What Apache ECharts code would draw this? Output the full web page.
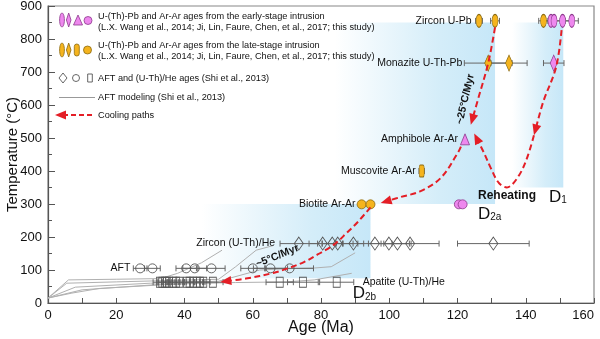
<!DOCTYPE html>
<html>
<head>
<meta charset="utf-8">
<script src="https://cdn.jsdelivr.net/npm/echarts@6/dist/echarts.min.js"></script>
<style>
html,body{margin:0;padding:0;background:#fff;}
#chart{width:600px;height:339px;}
</style>
</head>
<body>
<div id="chart"></div>
<script>
// ---------------- data ----------------
// Shaded thermal-event windows: [ageFrom, ageTo, tempFrom, tempTo]
const regionD2a = [84, 131, 300, 850];
const regionD1  = [136, 151, 350, 850];
const regionD2b = [45, 94.5, 75, 300];

// Zircon U-Pb (closure ~855 °C)
const zirconTemp = 855;
const zirconLateAges = [126.3, 131.0, 145.2];
const zirconLateErr  = [1.0, 1.3, 1.4];
const zirconEarlyAges = [147.4, 148.3, 150.8, 153.5];
const zirconEarlyErr  = [1.6, 1.8, 2.0, 1.9];

// Monazite U-Th-Pb
const monaziteTemp = 727;
const monaziteLateAges = [129.0, 135.1];
const monaziteLateErr  = [7.0, 5.3];
const monaziteEarlyAges = [148.2];
const monaziteEarlyErr  = [3.0];

// Amphibole, muscovite and biotite Ar-Ar
const amphiboleTemp = 496;
const amphiboleEarlyAges = [122.2];
const muscoviteTemp = 400;
const muscoviteLateAges = [109.5];
const muscoviteLateErr  = [0.8];
const biotiteTemp = 299;
const biotiteLateAges = [91.9, 94.5];
const biotiteLateErr  = [0.9, 0.9];
const biotiteEarlyAges = [120.4, 121.5];
const biotiteEarlyErr  = [0.8, 0.8];

// Low-temperature thermochronology (Shi et al., 2013)
const zheTemp = 180;
const zheAges = [73.5, 80.5, 83.3, 84.9, 89.5, 95.8, 99.9, 102.4, 106.1, 130.5];
const zheErr  = [5.5, 4.0, 3.0, 4.5, 3.0, 5.0, 6.0, 4.0, 8.5, 10.5];
const aftTemp = 105;
const aftAges = [27.0, 30.6, 40.5, 43.0, 47.9, 60.0, 65.2, 70.8];
const aftErr  = [2.0, 2.3, 3.0, 3.5, 4.0, 3.5, 5.0, 7.0];
const aheTemp = 63;
const aheAges = [32.8, 33.5, 34.3, 34.8, 35.5, 36.7, 37.5, 38.5, 40.7, 41.5, 42.5, 43.6, 44.5, 45.5, 48.3, 67.9, 74.7, 84.6];
const aheErr  = [2.0, 1.5, 2.0, 1.5, 2.0, 1.5, 2.0, 1.5, 2.0, 1.5, 2.0, 2.0, 1.5, 2.0, 3.0, 4.0, 4.5, 5.0];

// AFT inverse-modelling time-temperature paths [age, temp]
const model1 = [[0,15],[6,70],[20,72],[33,74],[38,90],[45,122],[51,160]];
const model2 = [[0,15],[5.5,60],[20,64],[35,68],[50,72],[55,110],[58,135],[61,160],[66,174]];
const model3 = [[0,15],[8,48],[30,60],[50,66],[62,100],[70,104],[78,106],[83,110],[90,152]];
const model4 = [[0,15],[10,40],[35,58],[55,62],[70,64],[78,70],[89,90]];
const model5 = [[0,15],[7,30],[15,44],[35,56],[50,62]];

// Cooling paths [age, temp]
const pathEarly    = [[131,835],[129,727],[126.2,624],[123.9,540]];
const pathD1       = [[150.5,827],[148.9,715],[145.1,609],[142.4,508]];
const pathReheat   = [[142.4,508],[140.5,443],[138.1,388],[134.9,351],[132.2,363],[129.8,408],[127.8,454],[124.9,514]];
const pathToBiot   = [[121,474],[120.1,455],[115.1,379],[109.2,339],[103.3,321],[97.5,303]];
const pathToAFT    = [[94.5,290],[91,248],[87.5,212],[83.7,176],[79,147],[75,124],[70,104],[66,91],[58,74],[50.5,64]];

// ---------------- styles ----------------
const FONT = "'Liberation Sans', Arial, sans-serif";
const ORANGE = '#F5B41E', ORANGE_LINE = '#8a6a12';
const PINK = '#EE88EE', PINK_LINE = '#8c3a8c';
const RED = '#E41E26';
const ELLIPSE = 'path://M50,0 A50,50 0 1,1 50,100 A50,50 0 1,1 50,0 Z';

function rows(ages, temp, errs) {
  return ages.map((a, i) => [a, temp, errs ? errs[i] : 0]);
}

function renderRegion(params, api) {
  const p0 = api.coord([api.value(0), api.value(3)]);
  const p1 = api.coord([api.value(1), api.value(2)]);
  return {
    type: 'rect',
    shape: { x: p0[0], y: p0[1], width: p1[0] - p0[0], height: p1[1] - p0[1] },
    style: {
      fill: new echarts.graphic.LinearGradient(0, 0, 1, 0, [
        { offset: 0, color: 'rgba(205,234,248,0)' },
        { offset: 0.65, color: 'rgba(205,234,248,0.85)' },
        { offset: 1, color: '#c6e7f8' }
      ])
    }
  };
}

function renderErr(params, api) {
  const a = api.value(0), t = api.value(1), e = api.value(2);
  if (!e) return null;
  const p1 = api.coord([a - e, t]), p2 = api.coord([a + e, t]);
  const h = 3;
  const st = { stroke: '#666', lineWidth: 1 };
  return {
    type: 'group',
    children: [
      { type: 'line', shape: { x1: p1[0], y1: p1[1], x2: p2[0], y2: p2[1] }, style: st },
      { type: 'line', shape: { x1: p1[0], y1: p1[1] - h, x2: p1[0], y2: p1[1] + h }, style: st },
      { type: 'line', shape: { x1: p2[0], y1: p2[1] - h, x2: p2[0], y2: p2[1] + h }, style: st }
    ]
  };
}

const coolingPaths = [pathEarly, pathD1, pathReheat, pathToBiot, pathToAFT];
function renderPath(params, api) {
  const pts = coolingPaths[params.dataIndex].map(p => api.coord(p));
  const n = pts.length;
  const tip = pts[n - 1], prev = pts[n - 2];
  const dx = tip[0] - prev[0], dy = tip[1] - prev[1];
  const len = Math.sqrt(dx * dx + dy * dy);
  const ux = dx / len, uy = dy / len;
  const L = 11, W = 4.5;
  const base = [tip[0] - ux * L, tip[1] - uy * L];
  const linePts = pts.slice(0, n - 1).concat([[tip[0] - ux * L * 0.7, tip[1] - uy * L * 0.7]]);
  return {
    type: 'group',
    children: [
      { type: 'polyline', shape: { points: linePts, smooth: 0.35 },
        style: { stroke: RED, lineWidth: 2, lineDash: [6, 3.5], fill: null } },
      { type: 'polygon', shape: { points: [tip, [base[0] - uy * W, base[1] + ux * W], [base[0] + uy * W, base[1] - ux * W]] },
        style: { fill: RED } }
    ]
  };
}

function renderText(params, api) {
  const item = annotations[params.dataIndex];
  const p = api.coord([item.age, item.temp]);
  return {
    type: 'text',
    x: p[0] + (item.dx || 0), y: p[1] + (item.dy || 0),
    rotation: (item.rotate || 0) * Math.PI / 180,
    style: Object.assign({
      text: item.text, fill: '#111', font: (item.weight || 'normal') + ' ' + (item.size || 10.5) + 'px ' + FONT,
      align: item.align || 'right', verticalAlign: 'middle'
    }, item.rich ? { rich: item.rich } : {})
  };
}

const subRich = {
  d: { fontSize: 17, fontFamily: FONT, lineHeight: 20, verticalAlign: 'bottom', fill: '#111' },
  s: { fontSize: 10, fontFamily: FONT, lineHeight: 20, verticalAlign: 'bottom', padding: [9, 0, 0, 0], fill: '#111' }
};

const annotations = [
  { text: 'Zircon U-Pb', age: zirconLateAges[0] - zirconLateErr[0], temp: zirconTemp, dx: -4 },
  { text: 'Monazite U-Th-Pb', age: monaziteLateAges[0] - monaziteLateErr[0], temp: monaziteTemp, dx: -2 },
  { text: 'Amphibole Ar-Ar', age: amphiboleEarlyAges[0], temp: amphiboleTemp, dx: -7 },
  { text: 'Muscovite Ar-Ar', age: muscoviteLateAges[0], temp: muscoviteTemp, dx: -6 },
  { text: 'Biotite Ar-Ar', age: biotiteLateAges[0], temp: biotiteTemp, dx: -6 },
  { text: 'Zircon (U-Th)/He', age: zheAges[0] - zheErr[0], temp: zheTemp, dx: -5 },
  { text: 'AFT', age: aftAges[0] - aftErr[0], temp: aftTemp, dx: -3 },
  { text: 'Apatite (U-Th)/He', age: 92.2, temp: aheTemp, align: 'left' },
  { text: 'Reheating', age: 134.5, temp: 326, align: 'center', weight: 'bold', size: 12 },
  { text: '~25°C/Myr', age: 122.3, temp: 618, align: 'center', weight: 'bold', size: 10.5, rotate: 77 },
  { text: '~5°C/Myr', age: 67.2, temp: 142, align: 'center', weight: 'bold', size: 10.5, rotate: 22 },
  { text: '{d|D}{s|1}', age: regionD1[0] + 10.8, temp: 326, align: 'left', rich: subRich },
  { text: '{d|D}{s|2a}', age: 126.0, temp: 274, align: 'left', rich: subRich },
  { text: '{d|D}{s|2b}', age: 89.3, temp: 34, align: 'left', rich: subRich }
];

// ---------------- legend (drawn as graphics) ----------------
function ellipsePts(cx, cy, rx, ry) {
  const out = [];
  for (let i = 0; i < 28; i++) {
    const t = i / 28 * Math.PI * 2;
    out.push([cx + rx * Math.cos(t), cy + ry * Math.sin(t)]);
  }
  return out;
}
const pinkSt = { fill: PINK, stroke: PINK_LINE, lineWidth: 0.8 };
const orSt = { fill: ORANGE, stroke: ORANGE_LINE, lineWidth: 0.8 };
const openSt = { fill: '#fff', stroke: '#555', lineWidth: 0.9 };
const LFONT = '9.2px ' + FONT;
function ltext(x, y, t) {
  return { type: 'text', x: x, y: y, style: { text: t, font: LFONT, fill: '#111', verticalAlign: 'middle' } };
}
const legendGraphics = [
  { type: 'polygon', shape: { points: ellipsePts(62, 20, 2.4, 7) }, style: pinkSt },
  { type: 'polygon', shape: { points: [[68.7, 13], [71, 20], [68.7, 27], [66.4, 20]] }, style: pinkSt },
  { type: 'polygon', shape: { points: [[78, 15], [82.5, 25], [73.5, 25]] }, style: pinkSt },
  { type: 'circle', shape: { cx: 88, cy: 20.5, r: 4 }, style: pinkSt },
  ltext(98, 16, 'U-(Th)-Pb and Ar-Ar ages from the early-stage intrusion'),
  ltext(98, 27, '(L.X. Wang et al., 2014; Ji, Lin, Faure, Chen, et al., 2017; this study)'),

  { type: 'polygon', shape: { points: ellipsePts(62, 50, 2.4, 7) }, style: orSt },
  { type: 'polygon', shape: { points: [[68.7, 43], [71, 50], [68.7, 57], [66.4, 50]] }, style: orSt },
  { type: 'rect', shape: { x: 74.3, y: 44, width: 5, height: 12, r: 2.5 }, style: orSt },
  { type: 'circle', shape: { cx: 87.5, cy: 50, r: 4 }, style: orSt },
  ltext(98, 45, 'U-(Th)-Pb and Ar-Ar ages from the late-stage intrusion'),
  ltext(98, 56, '(L.X. Wang et al., 2014; Ji, Lin, Faure, Chen, et al., 2017; this study)'),

  { type: 'polygon', shape: { points: [[63, 73], [67, 78], [63, 83], [59, 78]] }, style: openSt },
  { type: 'circle', shape: { cx: 76, cy: 78, r: 3.5 }, style: openSt },
  { type: 'rect', shape: { x: 87.7, y: 74, width: 4.6, height: 8 }, style: openSt },
  ltext(98, 78, 'AFT and (U-Th)/He ages (Shi et al., 2013)'),

  { type: 'line', shape: { x1: 59, y1: 97.5, x2: 95, y2: 97.5 }, style: { stroke: '#999', lineWidth: 1 } },
  ltext(98, 97.5, 'AFT modeling (Shi et al., 2013)'),

  { type: 'line', shape: { x1: 63, y1: 115, x2: 95, y2: 115 }, style: { stroke: RED, lineWidth: 2, lineDash: [5, 3] } },
  { type: 'polygon', shape: { points: [[55, 115], [66, 110.5], [66, 119.5]] }, style: { fill: RED } },
  ltext(98, 115, 'Cooling paths')
];

// ---------------- chart ----------------
const chart = echarts.init(document.getElementById('chart'), null, { renderer: 'canvas' });

function markerSeries(data, symbol, size, st) {
  return {
    type: 'scatter', data: data, symbol: symbol, symbolSize: size, z: 4,
    itemStyle: { color: st.fill, borderColor: st.stroke, borderWidth: st.lineWidth, opacity: 1 },
    emphasis: { disabled: true }, silent: true
  };
}
function errSeries(data) {
  return { type: 'custom', data: data, renderItem: renderErr, z: 3, silent: true, clip: false };
}
function modelSeries(d) {
  return { type: 'line', data: d, symbol: 'none', z: 2, silent: true,
    lineStyle: { color: '#b0b0b0', width: 1 } };
}

const openHollow = { fill: 'rgba(255,255,255,0)', stroke: '#555', lineWidth: 0.9 };

const option = {
  animation: false,
  backgroundColor: '#fff',
  grid: { left: 48, right: 6, top: 6, bottom: 36, containLabel: false, outerBoundsMode: 'none',
    show: true, borderColor: '#888', borderWidth: 1.2, backgroundColor: 'transparent' },
  xAxis: {
    type: 'value', min: 0, max: 160, interval: 20,
    name: 'Age (Ma)', nameLocation: 'middle', nameGap: 17, nameMoveOverlap: false,
    nameTextStyle: { fontSize: 16, color: '#111', fontFamily: FONT },
    axisLine: { show: true, lineStyle: { color: '#555', width: 1.2 } },
    axisTick: { show: true, inside: true, length: 5, lineStyle: { color: '#555' } },
    minorTick: { show: true, splitNumber: 2, length: 5, lineStyle: { color: '#555' } },
    splitLine: { show: false },
    axisLabel: { fontSize: 13, color: '#111', fontFamily: FONT, margin: 6, alignMaxLabel: 'right' }
  },
  yAxis: {
    type: 'value', min: 0, max: 900, interval: 100,
    name: 'Temperature (°C)', nameLocation: 'middle', nameGap: 28, nameRotate: 90, nameMoveOverlap: false,
    nameTextStyle: { fontSize: 15, color: '#111', fontFamily: FONT },
    axisLine: { show: true, lineStyle: { color: '#555', width: 1.2 } },
    axisTick: { show: true, inside: true, length: 7, lineStyle: { color: '#555' } },
    minorTick: { show: true, splitNumber: 2, length: 4, lineStyle: { color: '#555' } },
    splitLine: { show: false },
    axisLabel: { fontSize: 13, color: '#111', fontFamily: FONT, margin: 6 }
  },
  graphic: legendGraphics.map(g => Object.assign({ z: 100 }, g)),
  series: [
    { type: 'custom', data: [regionD2a, regionD1, regionD2b], renderItem: renderRegion, z: 0, silent: true },
    modelSeries(model1), modelSeries(model2), modelSeries(model3), modelSeries(model4), modelSeries(model5),

    errSeries(rows(zirconLateAges, zirconTemp, zirconLateErr)),
    errSeries(rows(zirconEarlyAges, zirconTemp, zirconEarlyErr)),
    errSeries(rows(monaziteLateAges, monaziteTemp, monaziteLateErr)),
    errSeries(rows(monaziteEarlyAges, monaziteTemp, monaziteEarlyErr)),
    errSeries(rows(muscoviteLateAges, muscoviteTemp, muscoviteLateErr)),
    errSeries(rows(biotiteLateAges, biotiteTemp, biotiteLateErr)),
    errSeries(rows(biotiteEarlyAges, biotiteTemp, biotiteEarlyErr)),
    errSeries(rows(zheAges, zheTemp, zheErr)),
    errSeries(rows(aftAges, aftTemp, aftErr)),
    errSeries(rows(aheAges, aheTemp, aheErr)),

    markerSeries(rows(zirconLateAges, zirconTemp), ELLIPSE, [6, 13], orSt),
    markerSeries(rows(zirconEarlyAges, zirconTemp), ELLIPSE, [6, 13], pinkSt),
    markerSeries(rows(monaziteLateAges, monaziteTemp), 'diamond', [7, 16], orSt),
    markerSeries(rows(monaziteEarlyAges, monaziteTemp), 'diamond', [7, 16], pinkSt),
    markerSeries(rows(amphiboleEarlyAges, amphiboleTemp), 'triangle', [9, 11], pinkSt),
    markerSeries(rows(muscoviteLateAges, muscoviteTemp), 'roundRect', [5, 12], orSt),
    markerSeries(rows(biotiteLateAges, biotiteTemp), 'circle', 9, orSt),
    markerSeries(rows(biotiteEarlyAges, biotiteTemp), 'circle', 9, pinkSt),
    markerSeries(rows(zheAges, zheTemp), 'diamond', [9, 13], openHollow),
    markerSeries(rows(aftAges, aftTemp), 'circle', 9, openHollow),
    markerSeries(rows(aheAges, aheTemp), 'rect', [7, 10], openHollow),

    { type: 'custom', data: coolingPaths.map((p, i) => [i]), renderItem: renderPath, z: 6, silent: true, clip: false },
    { type: 'custom', data: annotations.map((a, i) => [i]), renderItem: renderText, z: 7, silent: true, clip: false }
  ]
};
chart.setOption(option);
</script>
</body>
</html>
